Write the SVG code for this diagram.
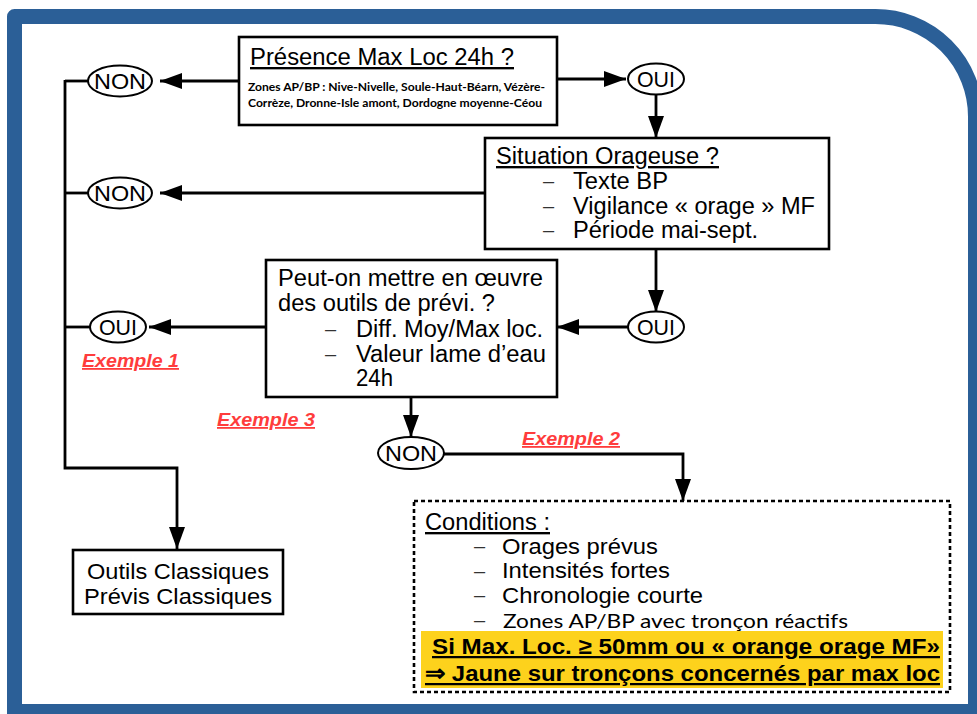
<svg xmlns="http://www.w3.org/2000/svg" width="977" height="714" viewBox="0 0 977 714">
<style>
.box{fill:#fff;stroke:#000;stroke-width:2.6}
.ell{fill:#fff;stroke:#000;stroke-width:2}
.t{font-family:"Liberation Sans",Arial,sans-serif;font-size:23.5px;fill:#000}
.c{font-family:"Liberation Sans",Arial,sans-serif;font-size:22px;fill:#000}
.d{font-family:"Liberation Sans",Arial,sans-serif;font-size:20px;fill:#333}
.lab{font-family:"Liberation Sans",Arial,sans-serif;font-size:22.5px;fill:#000;text-anchor:middle}
.u{text-decoration:underline}
.sub{font-family:Lato,"Open Sans",sans-serif;font-weight:bold;font-size:11.5px;fill:#000}
.ex{font-family:"Liberation Sans",Arial,sans-serif;font-weight:bold;font-style:italic;font-size:18px;fill:#ff3c3c;text-decoration:underline}
.y{font-family:"Liberation Sans",Arial,sans-serif;font-weight:bold;font-size:22.5px;fill:#000;text-decoration:underline}
.ln{fill:none;stroke:#000;stroke-width:2.8}
.arr{fill:none;stroke:#000;stroke-width:2.8;marker-end:url(#ah)}
</style>
<defs>
<marker id="ah" markerUnits="userSpaceOnUse" markerWidth="22" markerHeight="16" refX="22" refY="8" orient="auto">
<path d="M0,0 L22,8 L0,16 z" fill="#000"/>
</marker>
</defs>
<rect width="977" height="714" fill="#fff"/>
<path d="M14.5,722 L14.5,16.5 L875,16.5 A100,100 0 0 1 975.5,117 L975.5,711.5 L14.5,711.5" fill="none" stroke="#2b5f97" stroke-width="15" stroke-linejoin="round"/>

<g id="connectors">
<line class="arr" x1="239" y1="81" x2="160" y2="81"/>
<line class="arr" x1="557" y1="79" x2="626" y2="79"/>
<line class="arr" x1="656" y1="95" x2="656" y2="138"/>
<line class="arr" x1="485" y1="193" x2="160" y2="193"/>
<line class="arr" x1="656" y1="249" x2="656" y2="312"/>
<line class="arr" x1="628" y1="327" x2="557" y2="327"/>
<line class="arr" x1="266" y1="327" x2="149" y2="327"/>
<line class="arr" x1="411" y1="397" x2="411" y2="437"/>
<polyline class="arr" points="444,454 683,454 683,501"/>
<line class="ln" x1="88" y1="81" x2="65" y2="81"/>
<line class="ln" x1="88" y1="193" x2="65" y2="193"/>
<line class="ln" x1="90" y1="327" x2="65" y2="327"/>
<polyline class="arr" points="65,80 65,468 177,468 177,549"/>
</g>

<g id="n-presence">
<rect class="box" x="239" y="37" width="318" height="88"/>
<text class="t u" x="250" y="65" textLength="264" lengthAdjust="spacingAndGlyphs">Présence Max Loc 24h ?</text>
<text class="sub" x="248" y="91" textLength="297" lengthAdjust="spacingAndGlyphs">Zones AP/BP : Nive-Nivelle, Soule-Haut-Béarn, Vézère-</text>
<text class="sub" x="248" y="107" textLength="294" lengthAdjust="spacingAndGlyphs">Corrèze, Dronne-Isle amont, Dordogne moyenne-Céou</text>
</g>

<g id="n-non1"><ellipse class="ell" cx="120" cy="81" rx="32" ry="15.5"/><text class="lab" x="120" y="89" textLength="52" lengthAdjust="spacingAndGlyphs">NON</text></g>
<g id="n-oui1"><ellipse class="ell" cx="656" cy="79" rx="28" ry="15.5"/><text class="lab" x="656" y="87" textLength="38" lengthAdjust="spacingAndGlyphs">OUI</text></g>

<g id="n-situation">
<rect class="box" x="485" y="138" width="344" height="111"/>
<text class="t u" x="496" y="164" textLength="223" lengthAdjust="spacingAndGlyphs">Situation Orageuse ?</text>
<text class="d" x="543" y="188">–</text><text class="t" x="573" y="189" textLength="95" lengthAdjust="spacingAndGlyphs">Texte BP</text>
<text class="d" x="543" y="213">–</text><text class="t" x="573" y="214" textLength="242" lengthAdjust="spacingAndGlyphs">Vigilance « orage » MF</text>
<text class="d" x="543" y="237">–</text><text class="t" x="573" y="238" textLength="185" lengthAdjust="spacingAndGlyphs">Période mai-sept.</text>
</g>

<g id="n-non2"><ellipse class="ell" cx="120" cy="193" rx="32" ry="15.5"/><text class="lab" x="120" y="201" textLength="52" lengthAdjust="spacingAndGlyphs">NON</text></g>
<g id="n-oui3"><ellipse class="ell" cx="656" cy="327" rx="28" ry="15.5"/><text class="lab" x="656" y="335" textLength="38" lengthAdjust="spacingAndGlyphs">OUI</text></g>

<g id="n-outils">
<rect class="box" x="266" y="260" width="291" height="137"/>
<text class="t" x="278" y="286" textLength="265" lengthAdjust="spacingAndGlyphs">Peut-on mettre en œuvre</text>
<text class="t" x="278" y="311" textLength="217" lengthAdjust="spacingAndGlyphs">des outils de prévi. ?</text>
<text class="d" x="325" y="336">–</text><text class="t" x="356" y="337" textLength="187" lengthAdjust="spacingAndGlyphs">Diff. Moy/Max loc.</text>
<text class="d" x="325" y="361">–</text><text class="t" x="356" y="362" textLength="190" lengthAdjust="spacingAndGlyphs">Valeur lame d’eau</text>
<text class="t" x="356" y="386" textLength="37" lengthAdjust="spacingAndGlyphs">24h</text>
</g>

<g id="n-oui4"><ellipse class="ell" cx="118" cy="327" rx="28" ry="15.5"/><text class="lab" x="118" y="335" textLength="38" lengthAdjust="spacingAndGlyphs">OUI</text></g>
<g id="n-non5"><ellipse class="ell" cx="411" cy="453" rx="33" ry="16"/><text class="lab" x="411" y="461" textLength="52" lengthAdjust="spacingAndGlyphs">NON</text></g>

<g id="labels">
<text class="ex" x="82" y="367" textLength="97" lengthAdjust="spacingAndGlyphs">Exemple 1</text>
<text class="ex" x="217" y="426" textLength="98" lengthAdjust="spacingAndGlyphs">Exemple 3</text>
<text class="ex" x="522" y="445" textLength="98" lengthAdjust="spacingAndGlyphs">Exemple 2</text>
</g>

<g id="n-conditions">
<rect x="414" y="501" width="536" height="191" fill="#fff" stroke="#000" stroke-width="2.6" stroke-dasharray="4,3"/>
<text class="t u" x="425" y="530" textLength="125" lengthAdjust="spacingAndGlyphs">Conditions :</text>
<text class="d" x="474" y="553">–</text><text class="c" x="502" y="554" textLength="156" lengthAdjust="spacingAndGlyphs">Orages prévus</text>
<text class="d" x="474" y="578">–</text><text class="c" x="502" y="578" textLength="168" lengthAdjust="spacingAndGlyphs">Intensités fortes</text>
<text class="d" x="474" y="602">–</text><text class="c" x="502" y="603" textLength="201" lengthAdjust="spacingAndGlyphs">Chronologie courte</text>
<text class="d" x="474" y="627">–</text><text x="503" y="628" font-family="Lato,'Open Sans',sans-serif" font-size="20" textLength="345" lengthAdjust="spacingAndGlyphs">Zones AP/BP avec tronçon réactifs</text>
<rect x="421" y="631" width="522" height="57" fill="#fdd21c"/>
<text class="y" x="432" y="654" textLength="508" lengthAdjust="spacingAndGlyphs">Si Max. Loc. ≥ 50mm ou « orange orage MF»</text>
<text class="y" x="425" y="681" textLength="515" lengthAdjust="spacingAndGlyphs">⇒ Jaune sur tronçons concernés par max loc</text>
</g>

<g id="n-classiques">
<rect class="box" x="73" y="550" width="210" height="64"/>
<text class="lab" x="178" y="579" font-size="23" textLength="182" lengthAdjust="spacingAndGlyphs">Outils Classiques</text>
<text class="lab" x="178" y="604" font-size="23" textLength="188" lengthAdjust="spacingAndGlyphs">Prévis Classiques</text>
</g>
</svg>
